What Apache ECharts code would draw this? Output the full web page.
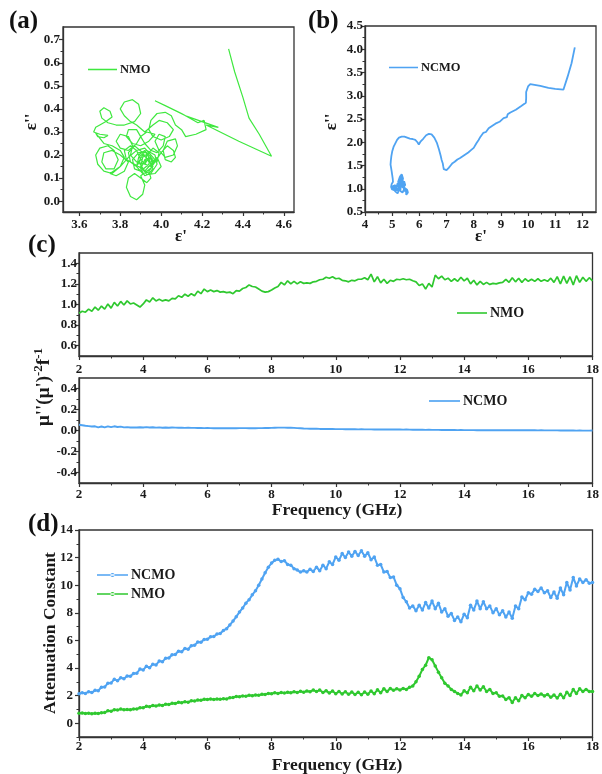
<!DOCTYPE html>
<html>
<head>
<meta charset="utf-8">
<script src="https://cdn.jsdelivr.net/npm/echarts@6/dist/echarts.min.js"></script>
<style>
html,body{margin:0;padding:0;background:#fff}
#chart{width:602px;height:774px}
</style>
</head>
<body>
<div id="chart"></div>
<script>
// ---- (a) Cole-Cole curve of NMO: [epsilon', epsilon''] ----
const nmoCole = [
  [4.33,0.66],[4.36,0.56],[4.40,0.45],[4.43,0.36],[4.48,0.29],[4.54,0.195],[4.38,0.26],[4.22,0.33],[4.28,0.32],[4.12,0.37],
  [3.97,0.435],[4.02,0.415],[4.10,0.38],[4.18,0.34],[4.21,0.35],[4.22,0.31],[4.17,0.29],[4.12,0.28],[4.10,0.31],[4.07,0.33],
  [4.05,0.37],[4.02,0.385],[3.98,0.38],[3.95,0.35],[3.94,0.31],[3.96,0.28],[4.00,0.265],[4.04,0.28],[4.06,0.31],[4.03,0.34],
  [3.99,0.35],[3.96,0.33],[3.92,0.30],[3.88,0.33],[3.85,0.345],[3.82,0.37],[3.80,0.40],[3.82,0.43],[3.86,0.44],[3.89,0.42],
  [3.90,0.38],[3.87,0.345],[3.82,0.33],[3.78,0.33],[3.74,0.34],[3.71,0.36],[3.70,0.39],[3.72,0.405],[3.75,0.39],[3.76,0.365],
  [3.73,0.345],[3.70,0.33],[3.68,0.32],[3.67,0.30],[3.70,0.29],[3.74,0.285],[3.72,0.275],[3.69,0.28],[3.68,0.295],[3.72,0.25],
  [3.76,0.24],[3.80,0.22],[3.82,0.19],[3.80,0.15],[3.76,0.12],[3.72,0.13],[3.69,0.16],[3.68,0.20],[3.70,0.23],[3.74,0.24],
  [3.77,0.22],[3.79,0.18],[3.77,0.14],[3.73,0.14],[3.71,0.17],[3.72,0.21],[3.76,0.22],[3.80,0.20],[3.84,0.17],[3.82,0.13],
  [3.78,0.11],[3.75,0.12],[3.80,0.15],[3.84,0.19],[3.88,0.22],[3.92,0.23],[3.95,0.20],[3.94,0.16],[3.90,0.13],[3.87,0.14],
  [3.86,0.18],[3.89,0.21],[3.93,0.21],[3.96,0.18],[3.95,0.14],[3.91,0.12],[3.88,0.15],[3.89,0.19],[3.93,0.22],[3.97,0.20],
  [3.98,0.16],[3.95,0.12],[3.92,0.11],[3.90,0.14],[3.92,0.18],[3.95,0.19],[3.96,0.15],[3.93,0.13],[3.90,0.11],[3.92,0.07],
  [3.91,0.03],[3.88,0.006],[3.85,0.02],[3.83,0.06],[3.84,0.10],[3.87,0.12],[3.90,0.10],[3.93,0.08],[3.95,0.10],[3.94,0.13],
  [3.97,0.17],[4.00,0.21],[4.03,0.24],[4.06,0.22],[4.07,0.19],[4.05,0.17],[4.02,0.18],[4.01,0.22],[4.03,0.26],[4.07,0.27],
  [4.08,0.24],[4.06,0.20],[4.02,0.19],[3.99,0.22],[3.97,0.26],[3.99,0.29],[4.02,0.28],[4.01,0.24],[3.98,0.21],[3.95,0.22],
  [3.92,0.25],[3.90,0.28],[3.93,0.30],[3.97,0.29],[3.94,0.26],[3.90,0.24],[3.86,0.25],[3.83,0.28],[3.84,0.31],[3.88,0.31],
  [3.90,0.28],[3.88,0.25],[3.84,0.22],[3.80,0.23],[3.78,0.26],[3.80,0.29],[3.84,0.28],[3.86,0.24],[3.85,0.20],[3.88,0.17],
  [3.92,0.16],[3.94,0.19],[3.92,0.22],[3.89,0.20],[3.91,0.17],[3.94,0.15],[3.96,0.17],[3.98,0.19],[4.00,0.15],[3.97,0.12],
  [3.93,0.115],[3.90,0.15],[3.91,0.19],[3.94,0.21],[3.97,0.18],[3.95,0.15],[3.92,0.16],[3.93,0.20],[3.96,0.23],[3.99,0.21],
  [3.98,0.17],[3.94,0.17],[3.91,0.21],[3.87,0.24],[3.84,0.21],[3.85,0.17],[3.88,0.15],[3.90,0.18],[3.88,0.22],[3.85,0.24],
  [3.82,0.22],[3.83,0.18],[3.87,0.16],[3.91,0.14],[3.94,0.12],[3.96,0.14],[3.94,0.18],[3.91,0.20],[3.89,0.17],[3.92,0.13],
  [3.95,0.16]
];

// ---- (b) Cole-Cole curve of NCMO: [epsilon', epsilon''] ----
const ncmoCole = [
  [11.72,4.04],[11.60,3.70],[11.45,3.40],[11.30,3.13],[11.00,3.15],[10.75,3.17],[10.45,3.21],[10.08,3.25],[10.00,3.20],[9.93,3.08],
  [9.93,2.95],[9.92,2.85],[9.75,2.78],[9.55,2.70],[9.35,2.64],[9.25,2.60],[9.22,2.54],[9.26,2.58],[9.10,2.52],[8.95,2.44],
  [8.80,2.40],[8.70,2.36],[8.55,2.30],[8.45,2.22],[8.35,2.20],[8.25,2.12],[8.18,2.05],[8.10,1.98],[8.00,1.88],[7.90,1.83],
  [7.80,1.78],[7.65,1.72],[7.50,1.66],[7.40,1.63],[7.30,1.58],[7.22,1.55],[7.15,1.50],[7.08,1.45],[7.00,1.40],[6.95,1.37],
  [6.90,1.42],[6.88,1.48],[6.86,1.55],[6.82,1.62],[6.78,1.72],[6.72,1.85],[6.65,1.98],[6.55,2.10],[6.45,2.17],[6.35,2.18],
  [6.25,2.15],[6.15,2.08],[6.05,2.02],[5.98,1.95],[5.93,2.00],[5.85,2.05],[5.75,2.07],[5.65,2.08],[5.55,2.10],[5.45,2.12],
  [5.35,2.12],[5.25,2.10],[5.18,2.05],[5.12,1.98],[5.05,1.90],[5.00,1.80],[4.97,1.70],[4.95,1.60],[4.94,1.52],[4.96,1.45],
  [4.98,1.38],[5.00,1.30],[5.02,1.22],[5.03,1.15],[4.98,1.10],[4.96,1.04],[5.00,0.98],[5.08,1.00],[5.12,1.08],[5.08,1.12],
  [5.02,1.05],[5.05,0.97],[5.12,0.93],[5.18,0.97],[5.15,1.05],[5.08,1.06],[5.10,0.95],[5.20,0.90],[5.25,0.98],[5.22,1.08],
  [5.15,1.10],[5.12,1.02],[5.18,0.96],[5.26,1.05],[5.22,1.15],[5.28,1.25],[5.35,1.31],[5.40,1.22],[5.35,1.12],[5.28,1.05],
  [5.24,1.18],[5.30,1.28],[5.36,1.24],[5.33,1.14],[5.30,0.95],[5.38,0.92],[5.45,1.00],[5.42,1.10],[5.38,1.20],[5.30,1.28],
  [5.25,1.20],[5.32,1.08],[5.40,1.02],[5.48,1.08],[5.44,1.16],[5.38,1.10],[5.45,1.02],[5.55,0.98],[5.58,0.92],[5.52,0.87],
  [5.45,0.90],[5.50,1.00],[5.56,1.04],[5.52,0.96],[5.46,0.94],[5.40,1.06],[5.28,1.02],[5.20,1.12],[5.15,1.02]
];

// ---- shared frequency grid (GHz) for (c) and (d) ----
const freqGHz = [
  2.0,2.1,2.2,2.3,2.4,2.5,2.6,2.7,2.8,2.9,
  3.0,3.1,3.2,3.3,3.4,3.5,3.6,3.7,3.8,3.9,
  4.0,4.1,4.2,4.3,4.4,4.5,4.6,4.7,4.8,4.9,
  5.0,5.1,5.2,5.3,5.4,5.5,5.6,5.7,5.8,5.9,
  6.0,6.1,6.2,6.3,6.4,6.5,6.6,6.7,6.8,6.9,
  7.0,7.1,7.2,7.3,7.4,7.5,7.6,7.7,7.8,7.9,
  8.0,8.1,8.2,8.3,8.4,8.5,8.6,8.7,8.8,8.9,
  9.0,9.1,9.2,9.3,9.4,9.5,9.6,9.7,9.8,9.9,
  10.0,10.1,10.2,10.3,10.4,10.5,10.6,10.7,10.8,10.9,
  11.0,11.1,11.2,11.3,11.4,11.5,11.6,11.7,11.8,11.9,
  12.0,12.1,12.2,12.3,12.4,12.5,12.6,12.7,12.8,12.9,
  13.0,13.1,13.2,13.3,13.4,13.5,13.6,13.7,13.8,13.9,
  14.0,14.1,14.2,14.3,14.4,14.5,14.6,14.7,14.8,14.9,
  15.0,15.1,15.2,15.3,15.4,15.5,15.6,15.7,15.8,15.9,
  16.0,16.1,16.2,16.3,16.4,16.5,16.6,16.7,16.8,16.9,
  17.0,17.1,17.2,17.3,17.4,17.5,17.6,17.7,17.8,17.9,
  18.0
];

// ---- (c) eddy-current factor mu''(mu')^-2 f^-1 ----
const nmoEddy = [
  0.915,0.935,0.925,0.955,0.935,0.975,0.945,0.985,0.955,1.005,
  0.965,1.02,0.985,1.03,0.995,1.035,1.005,1.015,0.995,0.975,
  1.005,1.045,1.025,1.065,1.035,1.05,1.035,1.045,1.035,1.06,
  1.055,1.085,1.07,1.10,1.08,1.105,1.085,1.13,1.105,1.15,
  1.125,1.14,1.125,1.135,1.12,1.125,1.115,1.12,1.105,1.135,
  1.13,1.155,1.165,1.19,1.175,1.17,1.15,1.13,1.12,1.125,
  1.14,1.16,1.175,1.215,1.19,1.23,1.2,1.225,1.2,1.22,
  1.205,1.21,1.205,1.22,1.225,1.24,1.245,1.265,1.255,1.27,
  1.25,1.255,1.235,1.23,1.22,1.235,1.23,1.245,1.245,1.26,
  1.24,1.295,1.22,1.27,1.21,1.245,1.205,1.235,1.225,1.245,
  1.24,1.25,1.24,1.245,1.23,1.22,1.185,1.2,1.15,1.205,
  1.17,1.285,1.25,1.275,1.24,1.255,1.225,1.25,1.225,1.265,
  1.23,1.255,1.2,1.235,1.19,1.225,1.195,1.215,1.195,1.205,
  1.2,1.21,1.215,1.245,1.215,1.26,1.22,1.255,1.215,1.25,
  1.225,1.245,1.225,1.25,1.225,1.24,1.225,1.255,1.215,1.27,
  1.2,1.275,1.205,1.27,1.19,1.28,1.215,1.265,1.225,1.26,
  1.23
];
const ncmoEddy = [
  0.055,0.05,0.045,0.042,0.038,0.04,0.03,0.038,0.03,0.04,
  0.032,0.04,0.033,0.037,0.03,0.032,0.029,0.03,0.029,0.031,
  0.028,0.032,0.028,0.031,0.027,0.03,0.026,0.028,0.026,0.028,
  0.027,0.026,0.027,0.025,0.026,0.025,0.025,0.024,0.025,0.023,
  0.024,0.023,0.022,0.022,0.021,0.021,0.021,0.022,0.022,0.022,
  0.023,0.023,0.023,0.022,0.023,0.022,0.023,0.023,0.024,0.024,
  0.025,0.026,0.027,0.027,0.027,0.026,0.026,0.025,0.023,0.021,
  0.019,0.018,0.017,0.016,0.016,0.015,0.015,0.014,0.014,0.014,
  0.013,0.013,0.013,0.012,0.013,0.012,0.012,0.011,0.012,0.011,
  0.011,0.011,0.01,0.011,0.01,0.01,0.01,0.01,0.009,0.009,
  0.009,0.008,0.009,0.008,0.007,0.008,0.007,0.007,0.006,0.007,
  0.006,0.006,0.006,0.005,0.006,0.005,0.005,0.005,0.004,0.005,
  0.004,0.004,0.004,0.004,0.003,0.004,0.003,0.003,0.003,0.003,
  0.003,0.003,0.002,0.003,0.002,0.002,0.002,0.002,0.003,0.002,
  0.002,0.002,0.002,0.001,0.002,0.001,0.001,0.001,0.001,0.001,
  0.0,0.0,0.001,0.0,0.0,-0.001,0.0,-0.001,-0.001,-0.001,
  0.0
];

// ---- (d) attenuation constant ----
const ncmoAtten = [
  2.14,2.2,2.16,2.28,2.22,2.38,2.36,2.6,2.62,2.9,
  2.92,3.18,3.08,3.3,3.22,3.42,3.4,3.6,3.62,3.92,
  3.86,4.12,4.02,4.28,4.22,4.5,4.46,4.7,4.72,4.96,
  4.98,5.22,5.18,5.42,5.36,5.62,5.64,5.88,5.86,6.06,
  6.08,6.26,6.28,6.46,6.5,6.72,6.85,7.12,7.4,7.72,
  8.05,8.35,8.7,8.95,9.3,9.6,10.0,10.45,10.9,11.3,
  11.6,11.8,11.88,11.72,11.78,11.5,11.45,11.2,11.1,10.95,
  11.05,10.95,11.15,11.0,11.3,11.05,11.45,11.2,11.7,11.5,
  12.05,11.8,12.3,12.0,12.4,12.1,12.45,12.15,12.5,12.1,
  12.35,11.85,12.05,11.45,11.5,10.95,11.0,10.55,10.6,10.0,
  9.75,9.1,8.8,8.35,8.5,8.15,8.55,8.2,8.75,8.35,
  8.85,8.3,8.7,8.05,8.3,7.75,7.95,7.45,7.7,7.35,
  7.9,7.65,8.55,8.2,8.85,8.3,8.8,8.3,8.5,8.0,
  8.3,7.85,8.15,7.7,8.05,7.6,8.5,8.3,9.15,8.95,
  9.45,9.35,9.7,9.55,9.8,9.45,9.6,9.1,9.5,9.05,
  9.8,9.3,10.2,9.65,10.55,9.95,10.45,10.2,10.4,10.15,
  10.2
];
const nmoAtten = [
  0.72,0.74,0.7,0.73,0.69,0.72,0.7,0.76,0.78,0.9,
  0.86,0.98,0.95,1.02,0.97,1.0,0.97,1.03,1.02,1.12,
  1.12,1.22,1.2,1.28,1.24,1.32,1.28,1.38,1.36,1.44,
  1.42,1.52,1.48,1.56,1.52,1.62,1.6,1.68,1.66,1.74,
  1.72,1.76,1.72,1.76,1.73,1.77,1.76,1.84,1.86,1.94,
  1.92,1.98,1.96,2.02,1.99,2.04,2.02,2.1,2.08,2.16,
  2.14,2.2,2.16,2.22,2.18,2.24,2.2,2.28,2.22,2.32,
  2.24,2.34,2.28,2.4,2.3,2.4,2.22,2.36,2.18,2.34,
  2.14,2.3,2.12,2.28,2.1,2.26,2.08,2.24,2.06,2.26,
  2.1,2.34,2.14,2.42,2.2,2.5,2.3,2.52,2.38,2.5,
  2.4,2.52,2.45,2.6,2.7,3.0,3.4,3.9,4.2,4.75,
  4.6,4.15,3.7,3.3,2.9,2.7,2.45,2.3,2.15,2.05,
  2.35,2.2,2.6,2.35,2.7,2.4,2.65,2.3,2.45,2.15,
  2.2,1.95,1.98,1.72,1.85,1.5,1.85,1.62,2.0,1.85,
  2.08,1.95,2.15,2.0,2.12,1.98,2.08,1.88,2.05,1.82,
  2.1,1.85,2.25,2.0,2.45,2.15,2.5,2.3,2.45,2.3,
  2.3
];

// ---- tick positions ----
const ticksAx = [3.6,3.8,4.0,4.2,4.4,4.6];
const minorAx = [3.7,3.9,4.1,4.3,4.5];
const ticksAy = [0.0,0.1,0.2,0.3,0.4,0.5,0.6,0.7];
const minorAy = [0.05,0.15,0.25,0.35,0.45,0.55,0.65];
const ticksBx = [4,5,6,7,8,9,10,11,12];
const minorBx = [4.5,5.5,6.5,7.5,8.5,9.5,10.5,11.5];
const ticksBy = [0.5,1.0,1.5,2.0,2.5,3.0,3.5,4.0,4.5];
const minorBy = [0.75,1.25,1.75,2.25,2.75,3.25,3.75,4.25];
const ticksFreq = [2,4,6,8,10,12,14,16,18];
const minorFreq = [3,5,7,9,11,13,15,17];
const ticksCy1 = [0.6,0.8,1.0,1.2,1.4];
const minorCy1 = [0.7,0.9,1.1,1.3];
const ticksCy2 = [-0.4,-0.2,0.0,0.2,0.4];
const minorCy2 = [-0.3,-0.1,0.1,0.3];
const ticksDy = [0,2,4,6,8,10,12,14];
const minorDy = [-1,1,3,5,7,9,11,13];

const FONT = '"Liberation Serif","Times New Roman",serif';
const INK = '#1a1a1a';
const AXIS = '#333';
const GREEN_A = '#3fe83f';
const GREEN = '#2fc82f';
const BLUE = '#4fa3f2';

const fmt1 = v => v.toFixed(1);
const fmt0 = v => String(Math.round(v));

// one labelled axis plus a companion axis carrying the short minor ticks
function axisPair(dim, gridIndex, min, max, majors, minors, margin, fmt) {
  const pos = dim === 'x' ? 'bottom' : 'left';
  const main = {
    type: 'value', gridIndex, min, max, position: pos,
    axisLine: { show: true, onZero: false, lineStyle: { color: AXIS, width: 1.3 } },
    axisTick: { show: true, inside: false, length: 4, customValues: majors, lineStyle: { color: AXIS, width: 1.2 } },
    axisLabel: { show: true, customValues: majors, margin, formatter: fmt,
      fontFamily: FONT, fontWeight: 'bold', fontSize: 13, color: INK },
    splitLine: { show: false }
  };
  const minor = {
    type: 'value', gridIndex, min, max, position: pos,
    axisLine: { show: false, onZero: false },
    axisTick: { show: true, inside: false, length: 2.5, customValues: minors, lineStyle: { color: AXIS, width: 1 } },
    axisLabel: { show: false },
    splitLine: { show: false }
  };
  return [main, minor];
}

const grids = [
  { left: 63, top: 27, width: 231, height: 185 },
  { left: 365, top: 26, width: 231, height: 186 },
  { left: 79, top: 253, width: 517, height: 103 },
  { left: 79, top: 378, width: 517, height: 105 },
  { left: 79, top: 530, width: 517, height: 207 }
].map(g => Object.assign(g, { show: true, borderColor: AXIS, borderWidth: 1.3, backgroundColor: 'transparent' }));

const xAxes = [].concat(
  axisPair('x', 0, 3.52, 4.65, ticksAx, minorAx, 6, fmt1),
  axisPair('x', 1, 4, 12.5, ticksBx, minorBx, 6, fmt0),
  axisPair('x', 2, 2, 18, ticksFreq, minorFreq, 7, fmt0),
  axisPair('x', 3, 2, 18, ticksFreq, minorFreq, 5, fmt0),
  axisPair('x', 4, 2, 18, ticksFreq, minorFreq, 3, fmt0)
);
const yAxes = [].concat(
  axisPair('y', 0, -0.047, 0.755, ticksAy, minorAy, 3, fmt1),
  axisPair('y', 1, 0.5, 4.5, ticksBy, minorBy, 2, fmt1),
  axisPair('y', 2, 0.5, 1.5, ticksCy1, minorCy1, 2, fmt1),
  axisPair('y', 3, -0.5, 0.5, ticksCy2, minorCy2, 2, fmt1),
  axisPair('y', 4, -1, 14, ticksDy, minorDy, 6, fmt0)
);

const zip = vals => freqGHz.map((f, i) => [f, vals[i]]);

function plainLine(name, axis, data, color, width) {
  return {
    type: 'line', name, xAxisIndex: axis, yAxisIndex: axis, data,
    symbol: 'none', showSymbol: false, silent: true,
    lineStyle: { color, width }, itemStyle: { color }, z: 3
  };
}
function dottedLine(name, axis, data, color) {
  return {
    type: 'line', name, xAxisIndex: axis, yAxisIndex: axis, data,
    symbol: 'circle', symbolSize: 3.5, showSymbol: true, showAllSymbol: true, silent: true,
    lineStyle: { color, width: 2 }, itemStyle: { color }, z: 3
  };
}

const series = [
  plainLine('NMO-a', 0, nmoCole, GREEN_A, 1.2),
  plainLine('NCMO-b', 2, ncmoCole, BLUE, 1.8),
  plainLine('NMO-c', 4, zip(nmoEddy), GREEN, 1.7),
  plainLine('NCMO-c', 6, zip(ncmoEddy), BLUE, 1.9),
  dottedLine('NCMO-d', 8, zip(ncmoAtten), BLUE),
  dottedLine('NMO-d', 8, zip(nmoAtten), GREEN)
];

// legend glyphs: a plain stroke, and a stroke with a centre dot
const LINE_ICON = 'path://M0,0H30V1.6H0Z';
const DOT_ICON = 'path://M0,2.2H30V3.8H0Z M13,3A2,2,0,1,0,17,3A2,2,0,1,0,13,3Z';

const shortName = n => n.replace(/-.*$/, '');
function legendAt(names, left, top, size, width, icon, extra) {
  return Object.assign({
    data: names, left, top, itemWidth: width, itemHeight: 12, itemGap: 4, icon,
    selectedMode: false, formatter: shortName,
    textStyle: { fontFamily: FONT, fontWeight: 'bold', fontSize: size, color: INK, padding: [0, 0, 0, -2] }
  }, extra || {});
}
const legends = [
  legendAt(['NMO-a'], 83, 58, 12.5, 29, LINE_ICON),
  legendAt(['NCMO-b'], 384, 56, 12.5, 29, LINE_ICON),
  legendAt(['NMO-c'], 452, 301, 14, 30, LINE_ICON),
  legendAt(['NCMO-c'], 424, 389, 14, 31, LINE_ICON),
  legendAt(['NCMO-d', 'NMO-d'], 92, 563, 14, 31, DOT_ICON, { orient: 'vertical', itemGap: 5 })
];

function label(text, x, y, size, rotate) {
  return {
    type: 'text', x, y, rotation: rotate ? Math.PI / 2 : 0, z: 10,
    style: { text, font: 'bold ' + size + 'px ' + FONT, fill: INK,
      textAlign: 'center', textVerticalAlign: 'middle', align: 'center', verticalAlign: 'middle' }
  };
}
function panelTag(text, x, y) {
  return {
    type: 'text', x, y, z: 10,
    style: { text, font: 'bold 25px ' + FONT, fill: '#111',
      textAlign: 'left', textVerticalAlign: 'middle', align: 'left', verticalAlign: 'middle' }
  };
}

const graphics = [
  panelTag('(a)', 9, 22),
  panelTag('(b)', 308, 22),
  panelTag('(c)', 28, 246),
  panelTag('(d)', 28, 525),
  label("ε''", 32, 122, 17, true),
  label("ε'", 181, 237, 17, false),
  label("ε''", 332, 122, 17, true),
  label("ε'", 481, 237, 17, false),
  label('Frequency (GHz)', 337, 510, 17.5, false),
  label('Frequency (GHz)', 337, 765, 17.5, false),
  label('Attenuation Constant', 50, 633, 17.5, true),
  {
    type: 'text', x: 43, y: 387, rotation: Math.PI / 2, z: 10,
    style: {
      text: "{m|μ''(μ')}{s|-2}{m|f}{s|-1}",
      textAlign: 'center', textVerticalAlign: 'middle', align: 'center', verticalAlign: 'middle',
      rich: {
        m: { font: 'bold 19px ' + FONT, fill: INK, lineHeight: 22, verticalAlign: 'bottom' },
        s: { font: 'bold 13px ' + FONT, fill: INK, lineHeight: 22, verticalAlign: 'top' }
      }
    }
  }
];

const chart = echarts.init(document.getElementById('chart'), null, { renderer: 'canvas' });
chart.setOption({
  animation: false,
  backgroundColor: '#fff',
  grid: grids,
  xAxis: xAxes,
  yAxis: yAxes,
  legend: legends,
  series,
  graphic: graphics
});
</script>
</body>
</html>
